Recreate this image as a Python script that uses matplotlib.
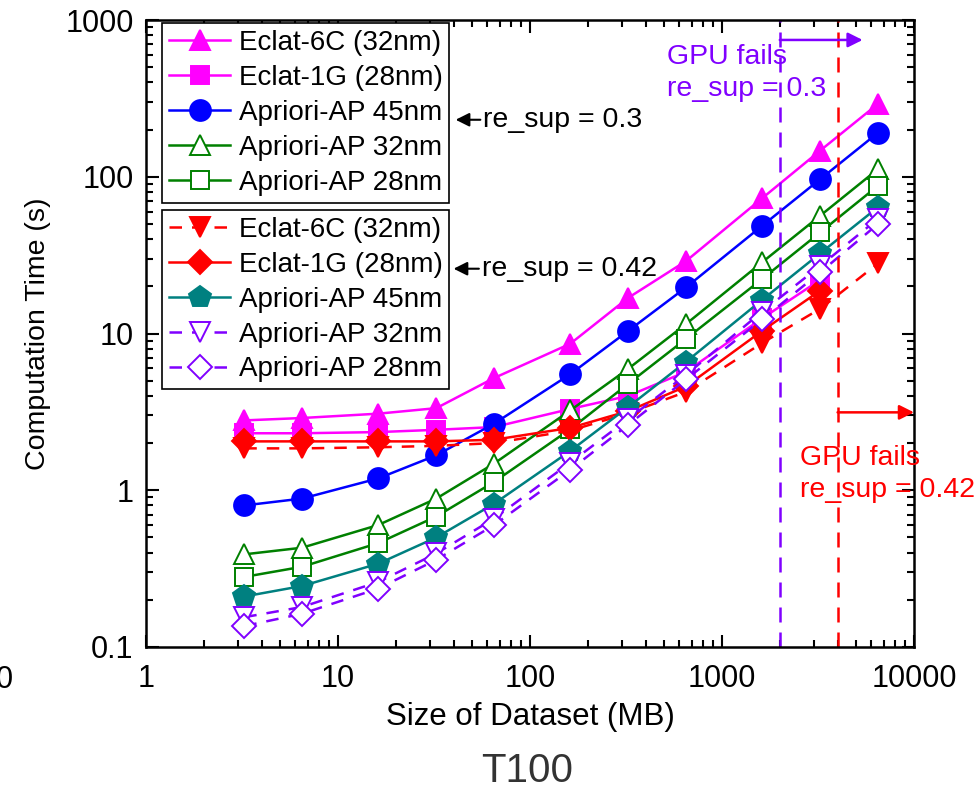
import numpy as np
import matplotlib.pyplot as plt
from matplotlib.ticker import LogLocator, NullFormatter, FixedLocator, FixedFormatter

plt.rcParams['font.family'] = ['Liberation Sans', 'DejaVu Sans']

# dados (MB, s)
size_mb = [3.25, 6.5, 16.2, 32.5, 65, 162, 325, 650, 1620, 3250, 6500]

eclat6c_03 = [2.79, 2.89, 3.08, 3.34, 5.2, 8.6, 16.9, 29, 73, 147, 292]
eclat1g_03 = [2.31, 2.31, 2.35, 2.43, 2.53, 3.3, 4.0, 5.7, 12.5, 22]
apriori45_03 = [0.80, 0.885, 1.19, 1.67, 2.66, 5.5, 10.4, 19.7, 48.7, 96.6, 191]
apriori32_03 = [0.39, 0.43, 0.6, 0.885, 1.48, 3.23, 5.96, 11.5, 28.5, 56.5, 112]
apriori28_03 = [0.28, 0.325, 0.46, 0.68, 1.13, 2.45, 4.78, 9.25, 22.3, 44.2, 87.7]

eclat6c_042 = [1.85, 1.85, 1.88, 1.92, 2.0, 2.4, 3.1, 4.25, 8.7, 14.4, 28]
eclat1g_042 = [2.05, 2.05, 2.05, 2.05, 2.1, 2.5, 3.2, 4.6, 10.4, 18.8]
apriori45_042 = [0.21, 0.245, 0.34, 0.5, 0.82, 1.78, 3.4, 6.6, 16.4, 32.5, 64]
apriori32_042 = [0.155, 0.18, 0.26, 0.395, 0.66, 1.5, 2.85, 5.45, 13.8, 27, 54]
apriori28_042 = [0.136, 0.163, 0.236, 0.36, 0.6, 1.35, 2.62, 5.1, 12.3, 24.6, 50]

gpu_fail_03 = 2000
gpu_fail_042 = 4000

x_ticks = [1, 10, 100, 1000, 10000]
x_tick_labels = ["1", "10", "100", "1000", "10000"]
y_ticks = [0.1, 1, 10, 100, 1000]
y_tick_labels = ["0.1", "1", "10", "100", "1000"]

MAG, BLUE, GREEN = '#FF00FF', '#0000FF', '#008000'
RED, TEAL, PURP = '#FF0000', '#008080', '#8000FF'

fig = plt.figure(figsize=(9.76, 7.93), dpi=100)
ax = fig.add_axes([146 / 976, 1 - 647 / 793, 768 / 976, 627 / 793])

lw = 1.8
dash = (0, (5, 4))


def serie(y, color, marker, ms, filled=True, ls='-', label=None):
    x = size_mb[:len(y)]
    face = color if filled else 'white'
    h, = ax.plot(x, y, color=color, linestyle=ls, linewidth=lw, marker=marker,
                 markersize=ms, markerfacecolor=face, markeredgecolor=color,
                 markeredgewidth=1.4, label=label)
    return h


g1 = [
    serie(eclat6c_03, MAG, '^', 15, label="Eclat-6C (32nm)"),
    serie(eclat1g_03, MAG, 's', 13, label="Eclat-1G (28nm)"),
    serie(apriori45_03, BLUE, 'o', 15, label="Apriori-AP 45nm"),
    serie(apriori32_03, GREEN, '^', 15, filled=False, label="Apriori-AP 32nm"),
    serie(apriori28_03, GREEN, 's', 13, filled=False, label="Apriori-AP 28nm"),
]
g2 = [
    serie(eclat6c_042, RED, 'v', 15, ls=dash, label="Eclat-6C (32nm)"),
    serie(eclat1g_042, RED, 'D', 12, label="Eclat-1G (28nm)"),
    serie(apriori45_042, TEAL, 'p', 16, label="Apriori-AP 45nm"),
    serie(apriori32_042, PURP, 'v', 15, filled=False, ls=dash, label="Apriori-AP 32nm"),
    serie(apriori28_042, PURP, 'D', 12, filled=False, ls=dash, label="Apriori-AP 28nm"),
]

# limites de falha da GPU
ax.axvline(gpu_fail_03, color=PURP, linestyle=(0, (6, 4)), linewidth=1.8)
ax.axvline(gpu_fail_042, color=RED, linestyle=(0, (6, 4)), linewidth=1.8)

ax.set_xscale('log')
ax.set_yscale('log')
ax.set_xlim(1, 10000)
ax.set_ylim(0.1, 1000)

ax.xaxis.set_major_locator(FixedLocator(x_ticks))
ax.xaxis.set_major_formatter(FixedFormatter(x_tick_labels))
ax.yaxis.set_major_locator(FixedLocator(y_ticks))
ax.yaxis.set_major_formatter(FixedFormatter(y_tick_labels))
ax.xaxis.set_minor_locator(LogLocator(base=10, subs=np.arange(2, 10)))
ax.yaxis.set_minor_locator(LogLocator(base=10, subs=np.arange(2, 10)))
ax.xaxis.set_minor_formatter(NullFormatter())
ax.yaxis.set_minor_formatter(NullFormatter())
ax.tick_params(which='both', direction='in', top=True, right=True, width=1.5)
ax.tick_params(which='major', length=9, labelsize=22)
ax.tick_params(axis='x', which='major', pad=12)
ax.tick_params(axis='y', which='major', pad=9)
ax.tick_params(which='minor', length=5)
for s in ax.spines.values():
    s.set_linewidth(1.8)

ax.set_xlabel("Size of Dataset (MB)", fontsize=22.5, labelpad=6)
ax.set_ylabel("Computation Time (s)", fontsize=20.5, labelpad=10)

leg_kw = dict(loc='upper left', fontsize=20, frameon=True, fancybox=False,
              edgecolor='black', framealpha=1, borderaxespad=0, borderpad=0.25,
              labelspacing=0.32, handlelength=2.2, handletextpad=0.3)
leg1 = ax.legend(handles=g1, bbox_to_anchor=(0.021, 0.995), **leg_kw)
leg1.get_frame().set_linewidth(1.2)
ax.add_artist(leg1)
leg2 = ax.legend(handles=g2, bbox_to_anchor=(0.021, 0.697), **leg_kw)
leg2.get_frame().set_linewidth(1.2)

# anotacoes
ax.annotate("re_sup = 0.3", xy=(41, 231), xytext=(57, 231), fontsize=20.5,
            va='center', ha='left',
            arrowprops=dict(arrowstyle='-|>', color='black', lw=1.5, shrinkA=0, shrinkB=0))
ax.annotate("re_sup = 0.42", xy=(40, 25.9), xytext=(56, 25.9), fontsize=20.5,
            va='center', ha='left',
            arrowprops=dict(arrowstyle='-|>', color='black', lw=1.5, shrinkA=0, shrinkB=0))

ax.annotate("", xy=(5400, 746), xytext=(gpu_fail_03, 746),
            arrowprops=dict(arrowstyle='-|>', color=PURP, lw=1.8, shrinkA=0, shrinkB=0,
                            mutation_scale=22))
ax.text(520, 460, "GPU fails\nre_sup = 0.3", color=PURP, fontsize=20.5,
        va='center', ha='left', linespacing=1.3)

ax.annotate("", xy=(10000, 3.14), xytext=(gpu_fail_042, 3.14),
            arrowprops=dict(arrowstyle='-|>', color=RED, lw=1.8, shrinkA=0, shrinkB=0,
                            mutation_scale=22), annotation_clip=False)
ax.text(2550, 1.27, "GPU fails\nre_sup = 0.42", color=RED, fontsize=20.5,
        va='center', ha='left', linespacing=1.3, clip_on=False)

fig.text(527 / 976, 1 - 771 / 793, "T100", fontsize=29, color='#333333',
         ha='center', va='center')
fig.text(-0.004, 1 - 680 / 793, "0", fontsize=22, ha='left', va='center')

fig.savefig("out.png", dpi=100)
